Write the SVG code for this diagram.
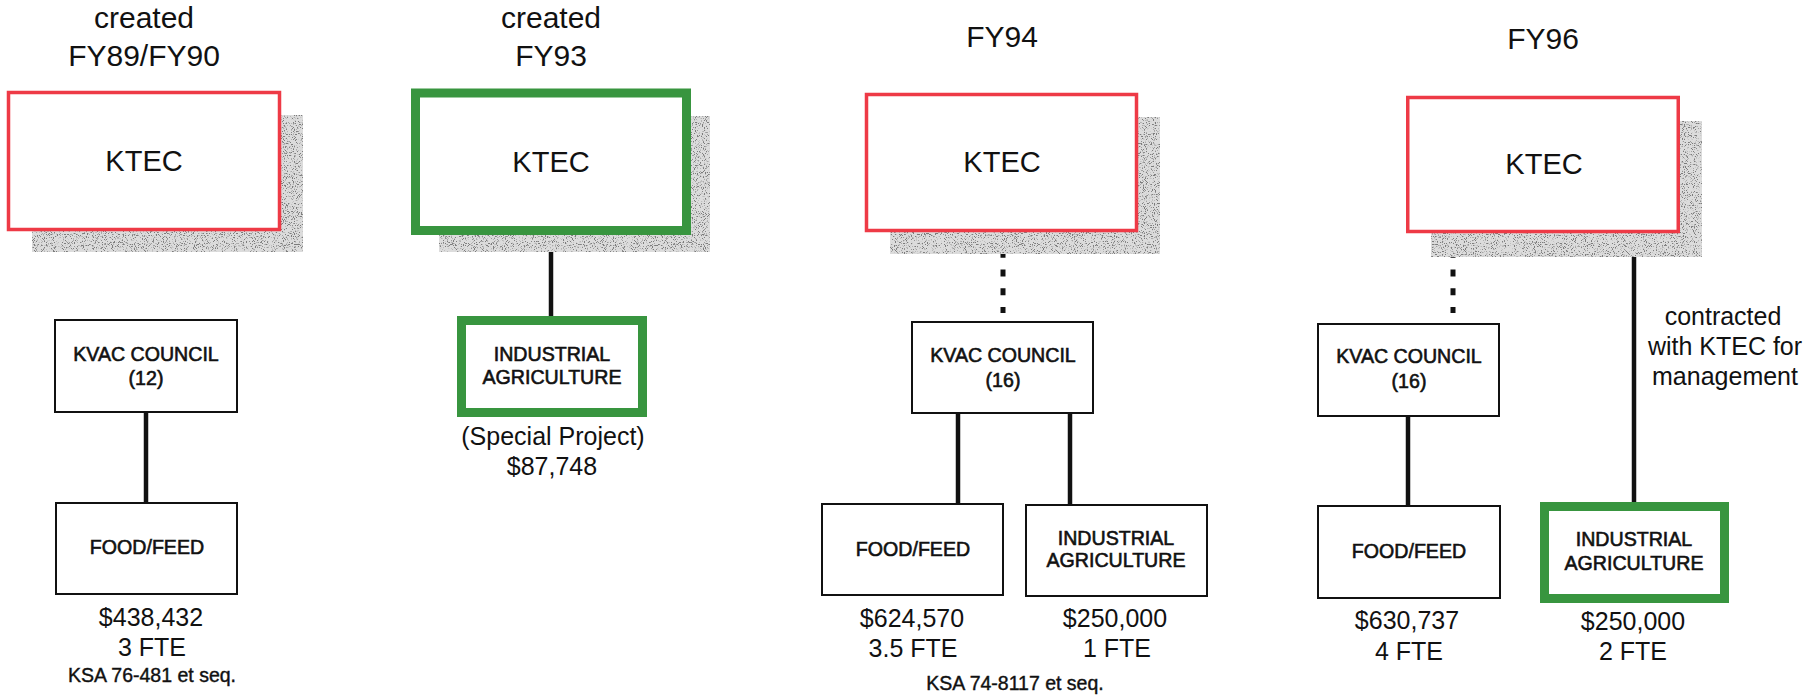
<svg xmlns="http://www.w3.org/2000/svg" width="1820" height="700" viewBox="0 0 1820 700">
<defs>
<filter id="stipple" x="0" y="0" width="100%" height="100%">
<feTurbulence type="fractalNoise" baseFrequency="0.9" numOctaves="2" seed="7" result="n"/>
<feColorMatrix in="n" type="matrix" values="0 0 0 0 0.2  0 0 0 0 0.2  0 0 0 0 0.2  8 0 0 0 -4.4" result="dots"/>
<feComposite in="dots" in2="SourceGraphic" operator="in" result="clip"/>
<feMerge><feMergeNode in="SourceGraphic"/><feMergeNode in="clip"/></feMerge>
</filter>
<style>
text{font-family:"Liberation Sans",Arial,sans-serif;fill:#111;text-anchor:middle}
.hd{font-size:30px}
.kt{font-size:29px}
.bx{font-size:19.6px;stroke:#111;stroke-width:0.6}
.val{font-size:25px}
.ksa{font-size:19.5px;stroke:#111;stroke-width:0.4}
.shadow{fill:#dcdcdc;filter:url(#stipple)}
.red{fill:#fff;stroke:#ee3a46;stroke-width:3.5}
.green{fill:#fff;stroke:#38953f;stroke-width:9}
.plain{fill:#fff;stroke:#111;stroke-width:2}
.conn{stroke:#111;stroke-width:4.5;fill:none}
.dot{stroke:#111;stroke-width:5;stroke-dasharray:7 11.75;fill:none}
</style>
</defs>
<rect width="1820" height="700" fill="#fff"/>

<!-- headers -->
<g id="headers">
<text class="hd" x="144" y="28">created</text>
<text class="hd" x="144" y="66">FY89/FY90</text>
<text class="hd" x="551" y="28">created</text>
<text class="hd" x="551" y="66">FY93</text>
<text class="hd" x="1002" y="47">FY94</text>
<text class="hd" x="1543" y="49">FY96</text>
</g>

<!-- connectors -->
<g id="connectors">
<line class="conn" x1="146" y1="412" x2="146" y2="503"/>
<line class="conn" x1="551" y1="230" x2="551" y2="318"/>
<line class="dot" x1="1003" y1="232" x2="1003" y2="313"/>
<line class="conn" x1="958" y1="413" x2="958" y2="505"/>
<line class="conn" x1="1070" y1="413" x2="1070" y2="505"/>
<line class="dot" x1="1453" y1="232" x2="1453" y2="313"/>
<line class="conn" x1="1408" y1="416" x2="1408" y2="506"/>
<line class="conn" x1="1634" y1="231" x2="1634" y2="504"/>
</g>

<!-- FY89/FY90 -->
<g id="ktec1">
<rect class="shadow" x="32" y="115" width="271" height="137"/>
<rect class="red" x="8.5" y="92.5" width="271" height="137"/>
<text class="kt" x="144" y="171">KTEC</text>
</g>
<g id="kvac1">
<rect class="plain" x="55" y="320" width="182" height="92"/>
<text class="bx" x="146" y="361">KVAC COUNCIL</text>
<text class="bx" x="146" y="385">(12)</text>
</g>
<g id="food1">
<rect class="plain" x="56" y="503" width="181" height="91"/>
<text class="bx" x="147" y="554">FOOD/FEED</text>
<text class="val" x="151" y="626">$438,432</text>
<text class="val" x="152" y="656">3 FTE</text>
<text class="ksa" x="152" y="682">KSA 76-481 et seq.</text>
</g>

<!-- FY93 -->
<g id="ktec2">
<rect class="shadow" x="439" y="116" width="271" height="136"/>
<rect class="green" x="415.5" y="93" width="271" height="137.5"/>
<text class="kt" x="551" y="172">KTEC</text>
</g>
<g id="indag2">
<rect class="green" x="461.5" y="320.5" width="181" height="92"/>
<text class="bx" x="552" y="361">INDUSTRIAL</text>
<text class="bx" x="552" y="384">AGRICULTURE</text>
<text class="val" x="553" y="445">(Special Project)</text>
<text class="val" x="552" y="475">$87,748</text>
</g>

<!-- FY94 -->
<g id="ktec3">
<rect class="shadow" x="890" y="117" width="270" height="137"/>
<rect class="red" x="866.5" y="94.5" width="270" height="136"/>
<text class="kt" x="1002" y="172">KTEC</text>
</g>
<g id="kvac3">
<rect class="plain" x="912" y="322" width="181" height="91"/>
<text class="bx" x="1003" y="362">KVAC COUNCIL</text>
<text class="bx" x="1003" y="387">(16)</text>
</g>
<g id="food3">
<rect class="plain" x="822" y="504" width="181" height="91"/>
<text class="bx" x="913" y="556">FOOD/FEED</text>
<text class="val" x="912" y="627">$624,570</text>
<text class="val" x="913" y="657">3.5 FTE</text>
</g>
<g id="indag3">
<rect class="plain" x="1026" y="505" width="181" height="91"/>
<text class="bx" x="1116" y="545">INDUSTRIAL</text>
<text class="bx" x="1116" y="567">AGRICULTURE</text>
<text class="val" x="1115" y="627">$250,000</text>
<text class="val" x="1117" y="657">1 FTE</text>
</g>
<text class="ksa" x="1015" y="690">KSA 74-8117 et seq.</text>

<!-- FY96 -->
<g id="ktec4">
<rect class="shadow" x="1431" y="121" width="271" height="136"/>
<rect class="red" x="1407.75" y="97.5" width="270.5" height="134"/>
<text class="kt" x="1544" y="174">KTEC</text>
</g>
<g id="kvac4">
<rect class="plain" x="1318" y="324" width="181" height="92"/>
<text class="bx" x="1409" y="363">KVAC COUNCIL</text>
<text class="bx" x="1409" y="388">(16)</text>
</g>
<g id="food4">
<rect class="plain" x="1318" y="506" width="182" height="92"/>
<text class="bx" x="1409" y="558">FOOD/FEED</text>
<text class="val" x="1407" y="629">$630,737</text>
<text class="val" x="1409" y="660">4 FTE</text>
</g>
<g id="indag4">
<rect class="green" x="1544.5" y="506.5" width="180" height="92"/>
<text class="bx" x="1634" y="546">INDUSTRIAL</text>
<text class="bx" x="1634" y="570">AGRICULTURE</text>
<text class="val" x="1633" y="630">$250,000</text>
<text class="val" x="1633" y="660">2 FTE</text>
</g>
<g id="contract-label">
<text class="val" x="1723" y="325">contracted</text>
<text class="val" x="1725" y="355">with KTEC for</text>
<text class="val" x="1725" y="385">management</text>
</g>
</svg>
